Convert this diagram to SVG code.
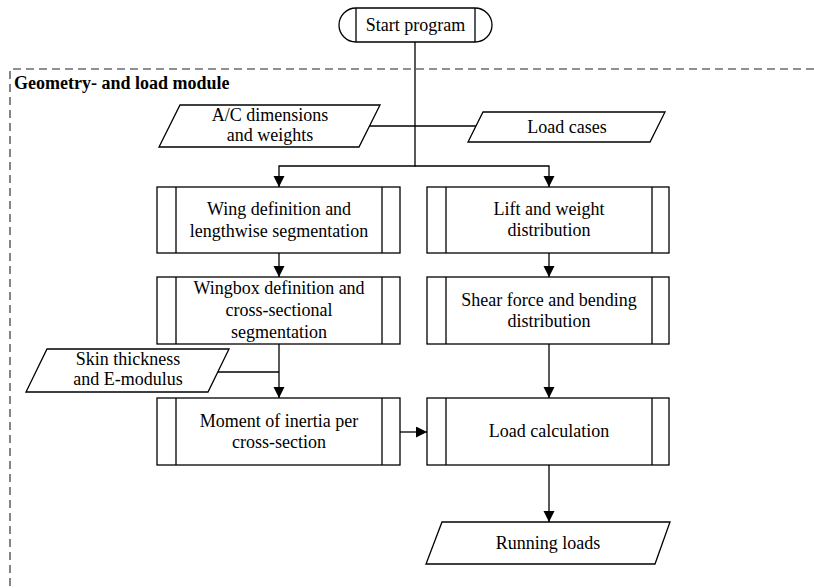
<svg xmlns="http://www.w3.org/2000/svg" width="814" height="588" viewBox="0 0 814 588" font-family="Liberation Serif, DejaVu Serif, serif">
  <style>
    .shape { fill: #fff; stroke: #000; stroke-width: 1.3; }
    .line { fill: none; stroke: #000; stroke-width: 1.3; }
    .wire { fill: none; stroke: #000; stroke-width: 1.3; }
    .arrow { marker-end: url(#head); }
    .dash { fill: none; stroke: #222; stroke-width: 1.1; stroke-dasharray: 8 5; }
    text { font-size: 18px; fill: #000; text-anchor: middle; }
    .title { font-weight: bold; text-anchor: start; }
  </style>
  <defs>
    <marker id="head" markerUnits="userSpaceOnUse" markerWidth="12" markerHeight="12" refX="11" refY="5.5" orient="auto">
      <path d="M0,0 L11,5.5 L0,11 z" fill="#000"/>
    </marker>
  </defs>

  <rect width="814" height="588" fill="#fff"/>

  <!-- module frame -->
  <g id="module">
    <path class="dash" d="M814 69 H10 V588"/>
    <text class="title" x="14" y="89">Geometry- and load module</text>
  </g>

  <!-- connectors -->
  <g id="connectors">
    <path class="wire arrow" d="M415 42 V166 H279 V187"/>
    <path class="wire arrow" d="M415 166 H549 V187"/>
    <path class="wire" d="M369.5 126 H415"/>
    <path class="wire" d="M415 126 H476"/>
    <path class="wire arrow" d="M279 253 V277"/>
    <path class="wire arrow" d="M549 253 V277"/>
    <path class="wire arrow" d="M279 344 V398"/>
    <path class="wire" d="M218 372 H279"/>
    <path class="wire arrow" d="M549 344 V398"/>
    <path class="wire arrow" d="M400 432 H427"/>
    <path class="wire arrow" d="M549 465 V522"/>
  </g>

  <!-- terminator -->
  <g id="start">
    <path class="shape" d="M356 8 H475 A17 17 0 0 1 475 42 H356 A17 17 0 0 1 356 8 Z"/>
    <path class="line" d="M356 8 V42 M475 8 V42"/>
    <text x="415.5" y="31">Start program</text>
  </g>

  <!-- inputs -->
  <g id="ac-dimensions">
    <polygon class="shape" points="180,105 380,105 359,147 159,147"/>
    <text x="270" y="121">A/C dimensions</text>
    <text x="270" y="141">and weights</text>
  </g>

  <g id="load-cases">
    <polygon class="shape" points="483,112 665,112 650,142 468,142"/>
    <text x="567" y="133">Load cases</text>
  </g>

  <g id="skin-thickness">
    <polygon class="shape" points="47,349 229,349 208,392 26,392"/>
    <text x="128" y="365">Skin thickness</text>
    <text x="128" y="385">and E-modulus</text>
  </g>

  <!-- predefined processes, left column -->
  <g id="wing-definition">
    <rect class="shape" x="157" y="187" width="243" height="66"/>
    <path class="line" d="M176 187 V253 M382 187 V253"/>
    <text x="279" y="215">Wing definition and</text>
    <text x="279" y="237">lengthwise segmentation</text>
  </g>

  <g id="wingbox-definition">
    <rect class="shape" x="157" y="277" width="243" height="67"/>
    <path class="line" d="M176 277 V344 M382 277 V344"/>
    <text x="279" y="294">Wingbox definition and</text>
    <text x="279" y="316">cross-sectional</text>
    <text x="279" y="338">segmentation</text>
  </g>

  <g id="moment-of-inertia">
    <rect class="shape" x="157" y="398" width="243" height="67"/>
    <path class="line" d="M176 398 V465 M382 398 V465"/>
    <text x="279" y="427">Moment of inertia per</text>
    <text x="279" y="448">cross-section</text>
  </g>

  <!-- predefined processes, right column -->
  <g id="lift-weight">
    <rect class="shape" x="427" y="187" width="242" height="66"/>
    <path class="line" d="M446 187 V253 M652 187 V253"/>
    <text x="549" y="215">Lift and weight</text>
    <text x="549" y="236">distribution</text>
  </g>

  <g id="shear-bending">
    <rect class="shape" x="427" y="277" width="242" height="67"/>
    <path class="line" d="M446 277 V344 M652 277 V344"/>
    <text x="549" y="306">Shear force and bending</text>
    <text x="549" y="327">distribution</text>
  </g>

  <g id="load-calculation">
    <rect class="shape" x="427" y="398" width="242" height="67"/>
    <path class="line" d="M446 398 V465 M652 398 V465"/>
    <text x="549" y="437">Load calculation</text>
  </g>

  <!-- output -->
  <g id="running-loads">
    <polygon class="shape" points="442,522 670,522 655,564 426,564"/>
    <text x="548" y="549">Running loads</text>
  </g>
</svg>
